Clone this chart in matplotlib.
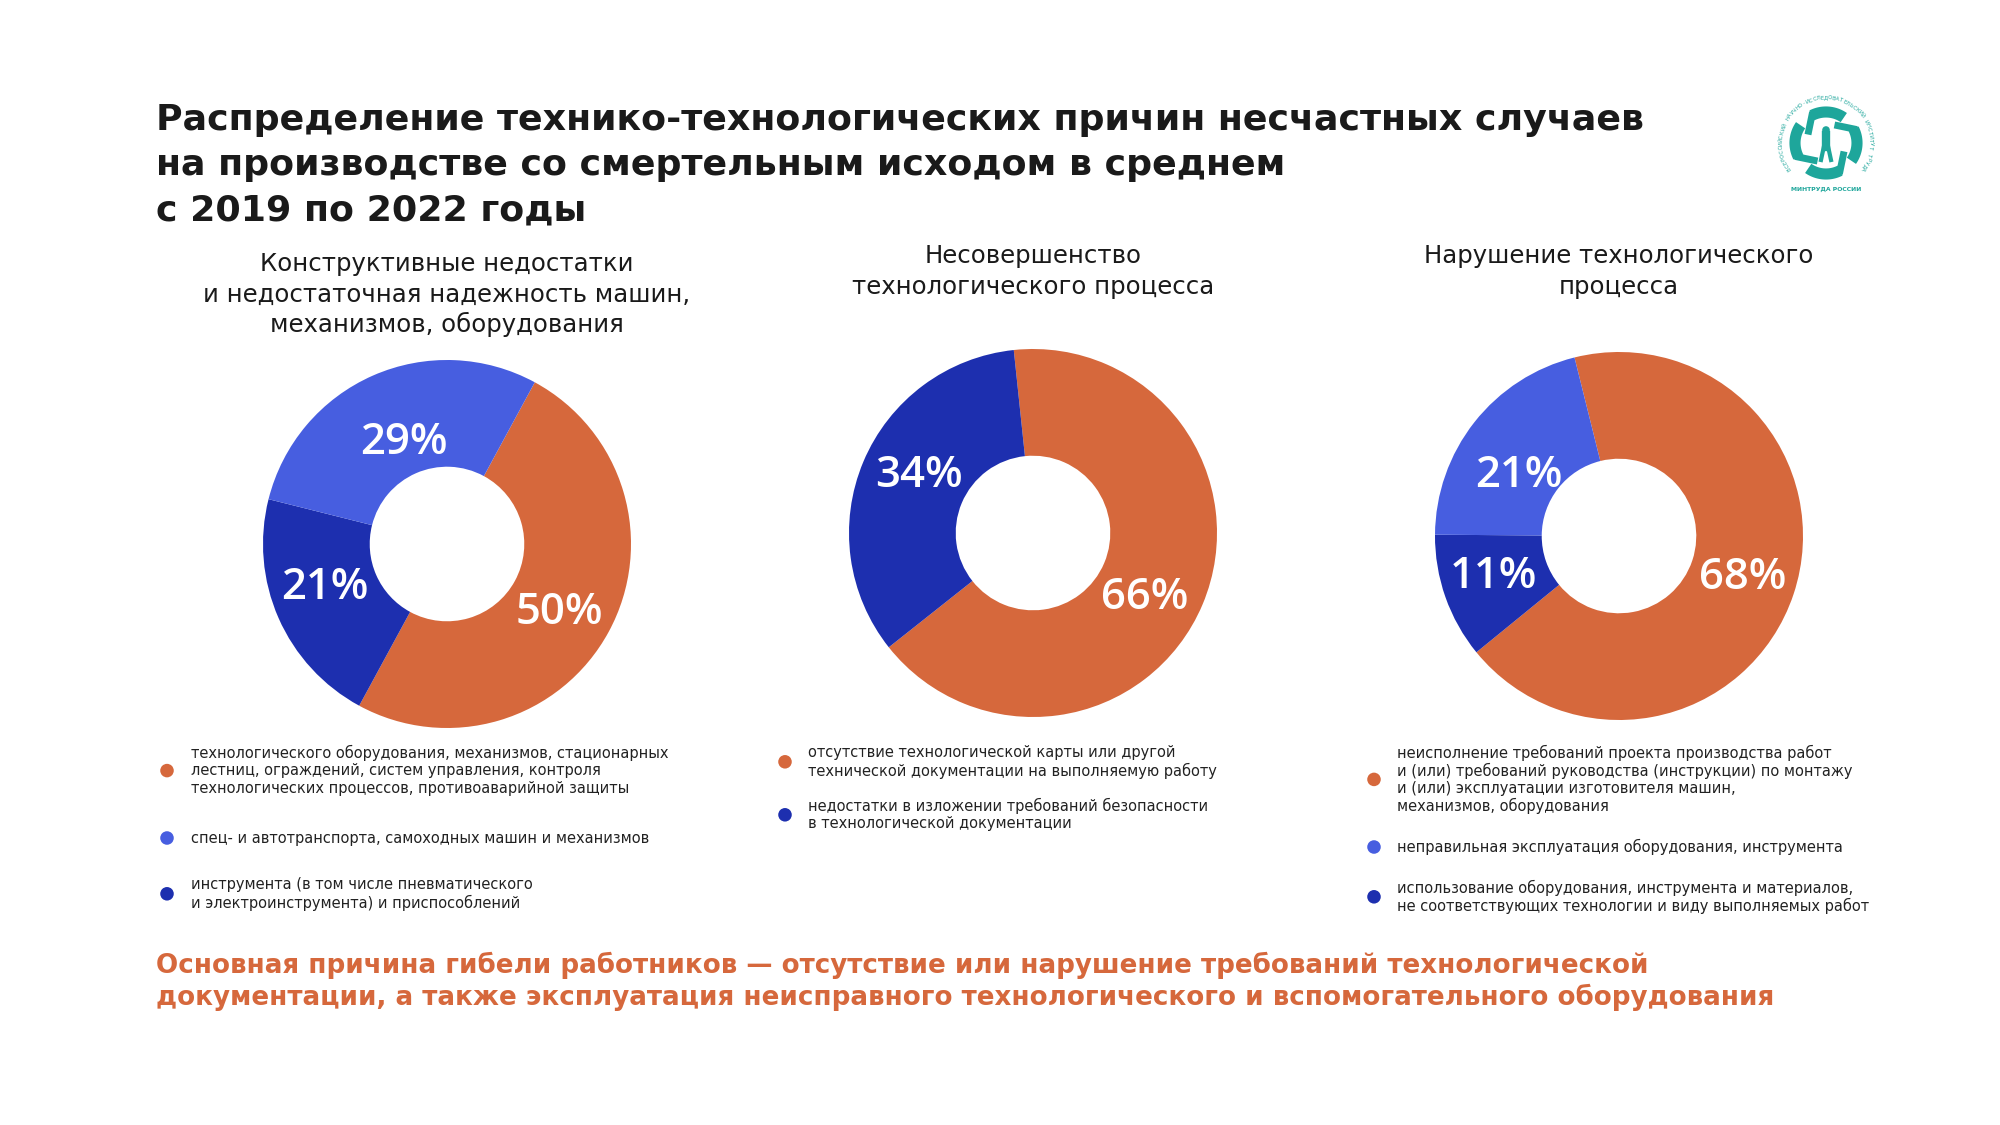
import numpy as np
import matplotlib
matplotlib.use("Agg")
from matplotlib import pyplot as plt

# ---- data -------------------------------------------------------------
title_lines = ["Распределение технико-технологических причин несчастных случаев",
               "на производстве со смертельным исходом в среднем",
               "с 2019 по 2022 годы"]

subtitles = ["Конструктивные недостатки\nи недостаточная надежность машин,\nмеханизмов, оборудования",
             "Несовершенство\nтехнологического процесса",
             "Нарушение технологического\nпроцесса"]

values_1 = [50, 21, 29]
values_2 = [66, 34]
values_3 = [68, 11, 21]

labels_1 = ["технологического оборудования, механизмов, стационарных\n"
            "лестниц, ограждений, систем управления, контроля\n"
            "технологических процессов, противоаварийной защиты",
            "спец- и автотранспорта, самоходных машин и механизмов",
            "инструмента (в том числе пневматического\n"
            "и электроинструмента) и приспособлений"]
labels_2 = ["отсутствие технологической карты или другой\n"
            "технической документации на выполняемую работу",
            "недостатки в изложении требований безопасности\n"
            "в технологической документации"]
labels_3 = ["неисполнение требований проекта производства работ\n"
            "и (или) требований руководства (инструкции) по монтажу\n"
            "и (или) эксплуатации изготовителя машин,\n"
            "механизмов, оборудования",
            "неправильная эксплуатация оборудования, инструмента",
            "использование оборудования, инструмента и материалов,\n"
            "не соответствующих технологии и виду выполняемых работ"]

footer_lines = ["Основная причина гибели работников — отсутствие или нарушение требований технологической",
                "документации, а также эксплуатация неисправного технологического и вспомогательного оборудования"]

# ---- style ------------------------------------------------------------
ORANGE = "#D6683C"
LIGHT = "#475EE0"
DARK = "#1D2FAF"
TEAL = "#1EA69B"
TXT = "#1a1a1a"

W, H = 2000, 1125
plt.rcParams['font.family'] = ['DejaVu Sans']

fig = plt.figure(figsize=(20, 11.25), dpi=100)
fig.patch.set_facecolor("white")

# overlay in pixel coords
bg = fig.add_axes([0, 0, 1, 1])
bg.set_xlim(0, W)
bg.set_ylim(H, 0)
bg.axis("off")

for i, line in enumerate(title_lines):
    bg.text(156, 120 + i * 45, line, fontsize=26.2, fontweight="bold",
            color=TXT, va="center", ha="left")

for i, line in enumerate(footer_lines):
    bg.text(156, 965 + i * 32, line, fontsize=18.8, fontweight="bold",
            color=ORANGE, va="center", ha="left")

# nudge: small shifts of the % labels (radius units), as in the original layout
pies = [
    dict(vals=values_1, cols=[ORANGE, DARK, LIGHT], start=61.5,
         nudge=[(-0.014, -0.035), (-0.014, 0.05), (0.05, -0.10)],
         c=(447, 544), sub_y=[264, 295, 324], sub=subtitles[0],
         legend_cols=[ORANGE, LIGHT, DARK], labels=labels_1,
         bullet_x=167, text_x=191, item_y=[753, 838, 885]),
    dict(vals=values_2, cols=[ORANGE, DARK], start=96,
         nudge=[(-0.05, -0.076), (0.035, 0.035)],
         c=(1033, 533), sub_y=[256, 287], sub=subtitles[1],
         legend_cols=[ORANGE, DARK], labels=labels_2,
         bullet_x=785, text_x=808, item_y=[753, 806]),
    dict(vals=values_3, cols=[ORANGE, DARK, LIGHT], start=104,
         nudge=[(0.0, 0.0), (-0.014, 0.014), (0.014, -0.11)],
         c=(1619, 536), sub_y=[256, 287], sub=subtitles[2],
         legend_cols=[ORANGE, LIGHT, DARK], labels=labels_3,
         bullet_x=1374, text_x=1397, item_y=[753, 847, 888]),
]

R = 184
LS = 17.6
for p in pies:
    cx, cy = p["c"]
    ax = fig.add_axes([(cx - R) / W, 1 - (cy + R) / H, 2 * R / W, 2 * R / H])
    wedges, _, pct = ax.pie(p["vals"], colors=p["cols"], startangle=p["start"],
                            counterclock=False, radius=1,
                            autopct=lambda v: "{:.0f}%".format(v), pctdistance=0.71,
                            wedgeprops=dict(width=0.58, edgecolor="none"),
                            textprops=dict(color="white", fontsize=31.5,
                                           fontweight="semibold",
                                           family=["Open Sans", "DejaVu Sans"]))
    for t, (dx, dy) in zip(pct, p["nudge"]):
        x, y = t.get_position()
        t.set_position((x + dx, y + dy))
    ax.set_xlim(-1, 1)
    ax.set_ylim(-1, 1)
    ax.axis("off")

    for j, line in enumerate(p["sub"].split("\n")):
        bg.text(cx, p["sub_y"][j], line, fontsize=17.6, color=TXT,
                ha="center", va="center")

    for col, lab, y0 in zip(p["legend_cols"], p["labels"], p["item_y"]):
        lines = lab.split("\n")
        for k, line in enumerate(lines):
            bg.text(p["text_x"], y0 + k * LS, line, fontsize=10.5, color="#222222",
                    ha="left", va="center")
        by = y0 + (len(lines) - 1) * LS / 2
        bg.scatter([p["bullet_x"]], [by], s=95, color=col, edgecolor="none")

# ---- logo (simplified) ------------------------------------------------
lx, ly = 1826, 143
for a0 in [55, 145, 235, 325]:
    th = np.radians(np.linspace(a0, a0 + 62, 40))
    bg.plot(lx + 31 * np.cos(th), ly - 31 * np.sin(th), color=TEAL, lw=8,
            solid_capstyle="butt")
    tt = np.radians(a0 + 62)
    bg.plot([lx + 31 * np.cos(tt), lx + 21 * np.cos(tt + 0.5)],
            [ly - 31 * np.sin(tt), ly - 21 * np.sin(tt + 0.5)], color=TEAL, lw=5)
bg.scatter([lx], [ly - 13], s=30, color=TEAL, edgecolor="none")
bg.plot([lx, lx], [ly - 8, ly + 4], color=TEAL, lw=6)
bg.plot([lx - 2, lx - 5], [ly + 3, ly + 17], color=TEAL, lw=3)
bg.plot([lx + 2, lx + 5], [ly + 3, ly + 17], color=TEAL, lw=3)
ring = "ВСЕРОССИЙСКИЙ НАУЧНО-ИССЛЕДОВАТЕЛЬСКИЙ ИНСТИТУТ ТРУДА"
angs = np.linspace(215, -35, len(ring))
for ch, a in zip(ring, angs):
    ar = np.radians(a)
    bg.text(lx + 45 * np.cos(ar), ly - 45 * np.sin(ar), ch, fontsize=3.8,
            color=TEAL, ha="center", va="center", rotation=a - 90)
bg.text(lx, ly + 46, "МИНТРУДА РОССИИ", fontsize=4.4, fontweight="bold",
        color=TEAL, ha="center", va="center")

fig.savefig("out.png", dpi=100, facecolor="white")
